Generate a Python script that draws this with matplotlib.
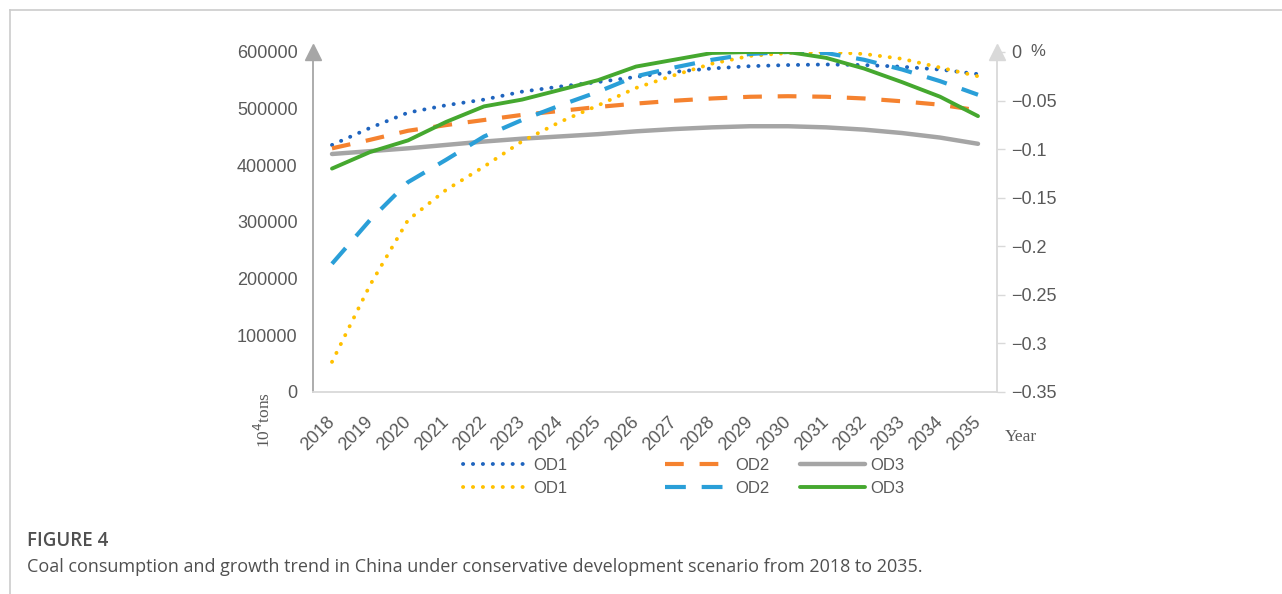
import numpy as np
import matplotlib
matplotlib.use("Agg")
import matplotlib.pyplot as plt
from matplotlib.lines import Line2D
from matplotlib.ticker import FixedLocator, FixedFormatter

# years on the x axis
years = [str(y) for y in range(2018, 2036)]

# coal consumption (10^4 tons), left axis
od1_cons = [436000, 466000, 493000, 506000, 516000, 530000, 539000, 547000, 556000,
            565000, 571000, 575000, 577000, 578000, 577000, 574000, 569000, 561000]
od2_cons = [430000, 445000, 461000, 471000, 480000, 489000, 496000, 503000, 509000,
            514000, 518000, 521000, 522000, 521000, 518000, 513000, 507000, 497000]
od3_cons = [420000, 425000, 430000, 436000, 442000, 447000, 451000, 455000, 460000,
            464000, 467000, 469000, 469000, 467000, 463000, 457000, 449000, 438000]

# growth trend (%), right axis
od1_grow = [-0.319, -0.240, -0.173, -0.142, -0.118, -0.092, -0.072, -0.055, -0.037,
            -0.024, -0.012, -0.004, -0.001, 0.000, -0.002, -0.007, -0.016, -0.025]
od2_grow = [-0.218, -0.173, -0.134, -0.111, -0.087, -0.070, -0.055, -0.041, -0.025,
            -0.016, -0.008, -0.002, 0.000, -0.001, -0.008, -0.018, -0.030, -0.044]
od3_grow = [-0.120, -0.103, -0.091, -0.072, -0.056, -0.049, -0.039, -0.029, -0.015,
            -0.008, -0.001, 0.000, 0.000, -0.006, -0.017, -0.031, -0.046, -0.066]

left_ticks = [0, 100000, 200000, 300000, 400000, 500000, 600000]
left_labels = ["0", "100000", "200000", "300000", "400000", "500000", "600000"]
right_ticks = [-0.35, -0.30, -0.25, -0.20, -0.15, -0.10, -0.05, 0.0]
right_labels = ["\u22120.35", "\u22120.3", "\u22120.25", "\u22120.2", "\u22120.15",
                "\u22120.1", "\u22120.05", "0"]

plt.rcParams['font.family'] = ['Liberation Sans', 'DejaVu Sans']
txt = "#595959"
dots = (0, (0.05, 2.5))

fig = plt.figure(figsize=(12.82, 5.94), dpi=100)
ax = fig.add_axes([313 / 1282, 202 / 594, 684 / 1282, 340 / 594])
ax2 = ax.twinx()

x = np.arange(len(years))

l1, = ax.plot(x, od1_cons, color="#1F64BE", lw=2.8, linestyle=dots,
              dash_capstyle="round", label="OD1")
l2, = ax.plot(x, od2_cons, color="#F5822F", lw=3, linestyle=(0, (4.5, 3.8)), label="OD2")
l3, = ax.plot(x, od3_cons, color="#A5A5A5", lw=3.2, solid_capstyle="round", label="OD3")
l4, = ax2.plot(x, od1_grow, color="#FFC000", lw=2.8, linestyle=dots,
               dash_capstyle="round", label="OD1")
l5, = ax2.plot(x, od2_grow, color="#2A9FD8", lw=3, linestyle=(0, (5, 3.8)), label="OD2")
l6, = ax2.plot(x, od3_grow, color="#45A82F", lw=2.8, solid_capstyle="round", label="OD3")

ax.set_xlim(-0.5, len(years) - 0.5)
ax.set_ylim(0, 600000)
ax2.set_ylim(-0.35, 0)

ax.set_xticks(x)
ax.set_xticklabels(years, rotation=45, ha="right", va="center", rotation_mode="anchor",
                   fontsize=13, color=txt)
ax.tick_params(axis="x", length=0, pad=20)

ax.yaxis.set_major_locator(FixedLocator(left_ticks))
ax.yaxis.set_major_formatter(FixedFormatter(left_labels))
ax.tick_params(axis="y", length=0, pad=11, labelsize=13, labelcolor=txt)

ax2.yaxis.set_major_locator(FixedLocator(right_ticks))
ax2.yaxis.set_major_formatter(FixedFormatter(right_labels))
ax2.tick_params(axis="y", length=6, width=1, color="#D9D9D9", pad=4, labelsize=13,
                labelcolor=txt)

for a in (ax, ax2):
    a.spines["top"].set_visible(False)
ax.spines["left"].set_color("#A6A6A6")
ax.spines["left"].set_linewidth(1.3)
ax.spines["bottom"].set_color("#D9D9D9")
ax.spines["bottom"].set_linewidth(1.3)
ax.spines["right"].set_visible(False)
ax2.spines["left"].set_visible(False)
ax2.spines["bottom"].set_visible(False)
ax2.spines["right"].set_color("#D9D9D9")
ax2.spines["right"].set_linewidth(1.3)

# arrow heads on the vertical axes
ax.plot([0], [1], marker="^", markersize=11, color="#A6A6A6", transform=ax.transAxes,
        clip_on=False)
ax2.plot([1], [1], marker="^", markersize=11, color="#D9D9D9", transform=ax2.transAxes,
         clip_on=False)

fig.text(1038 / 1282, 1 - 52 / 594, "%", fontsize=12, color=txt, ha="center", va="center")
fig.text(264 / 1282, 1 - 420 / 594, "10$^4$tons", family="Liberation Serif", fontsize=12.5,
         color=txt, rotation=90, ha="center", va="center")
fig.text(1005 / 1282, 1 - 437 / 594, "Year", family="Liberation Serif", fontsize=12.5,
         color=txt, ha="left", va="center")

# legend: one column per scenario, consumption on top, growth below
legend_cols = [(l1, l4, 463), (l2, l5, 665), (l3, l6, 800)]
for top, bottom, xpos in legend_cols:
    fig.legend(handles=[top, bottom], loc="center left",
               bbox_to_anchor=(xpos / 1282, 1 - 477 / 594), frameon=False, fontsize=12,
               handlelength=3.9, handletextpad=0.3, labelspacing=0.45,
               borderpad=0, borderaxespad=0, labelcolor=txt)

# page frame and caption
fig.add_artist(Line2D([9.5 / 1282, 1], [1 - 9.5 / 594, 1 - 9.5 / 594], color="#CCCCCC", lw=1.2))
fig.add_artist(Line2D([9.5 / 1282, 9.5 / 1282], [0, 1 - 9.5 / 594], color="#CCCCCC", lw=1.2))
fig.text(27 / 1282, 1 - 541 / 594, "FIGURE 4", family="Open Sans", fontsize=13.5,
         fontweight="semibold", color="#505050", ha="left", va="center")
fig.text(27 / 1282, 1 - 567 / 594,
         "Coal consumption and growth trend in China under conservative development scenario from 2018 to 2035.",
         family="Open Sans", fontsize=13, color="#505050", ha="left", va="center")

fig.savefig("out.png", dpi=100)
